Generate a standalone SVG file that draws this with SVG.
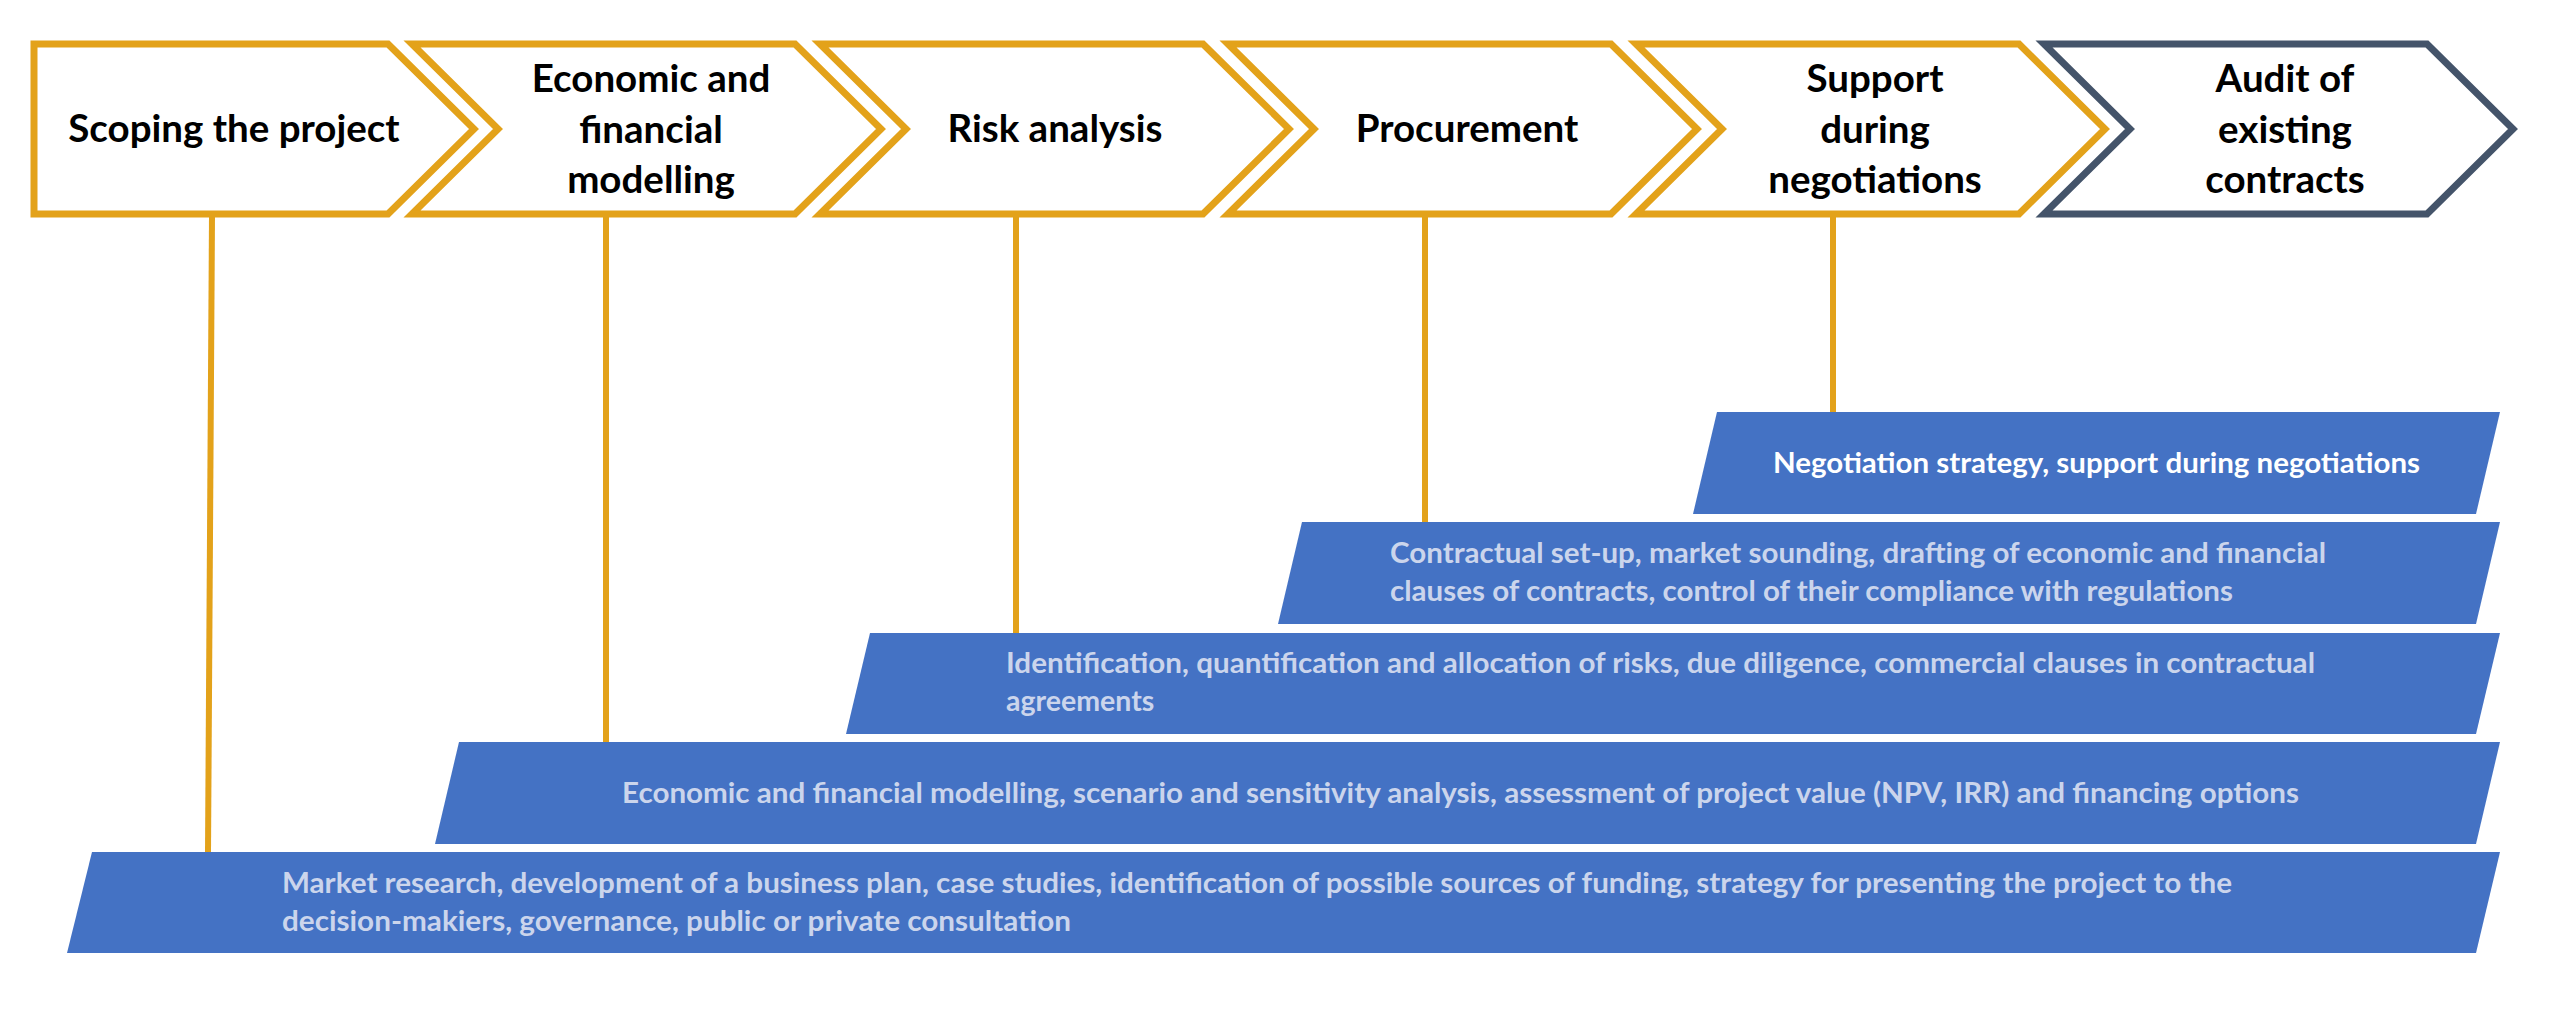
<svg xmlns="http://www.w3.org/2000/svg" width="2560" height="1013" viewBox="0 0 2560 1013">
<style>
.chev{fill:#ffffff;stroke:#E3A21A;stroke-width:7;stroke-linejoin:miter}
.chev.dark{stroke:#44546A}
.title{font-family:Lato,"Open Sans","Liberation Sans",sans-serif;font-weight:700;font-size:38.5px;fill:#000000;text-anchor:middle}
.band{fill:#4472C4}
.btxt{font-family:Lato,"Open Sans","Liberation Sans",sans-serif;font-weight:700;font-size:28.5px;fill:#CBD5EC}
.btxt.w{fill:#ffffff}
.conn{stroke:#E3A21A;stroke-width:6;fill:none}
</style>
<rect width="2560" height="1013" fill="#ffffff"/>
<g id="connectors">
<line class="conn" x1="212" y1="216" x2="208" y2="853"/>
<line class="conn" x1="606" y1="216" x2="606" y2="743"/>
<line class="conn" x1="1016" y1="216" x2="1016" y2="634"/>
<line class="conn" x1="1425" y1="216" x2="1425" y2="523"/>
<line class="conn" x1="1833" y1="216" x2="1833" y2="413"/>
</g>
<g id="step-scoping">
<path class="chev" d="M34,44 H388 L474,129 L388,214 H34 Z"/>
<text class="title" x="234" y="142">Scoping the project</text>
</g>
<g id="step-modelling">
<path class="chev" d="M412,44 H795 L881,129 L795,214 H412 L498,129 Z"/>
<text class="title" x="651" y="92">Economic and</text>
<text class="title" x="651" y="143">financial</text>
<text class="title" x="651" y="193">modelling</text>
</g>
<g id="step-risk">
<path class="chev" d="M820,44 H1203 L1289,129 L1203,214 H820 L906,129 Z"/>
<text class="title" x="1055" y="142">Risk analysis</text>
</g>
<g id="step-procurement">
<path class="chev" d="M1228,44 H1611 L1697,129 L1611,214 H1228 L1314,129 Z"/>
<text class="title" x="1467" y="142">Procurement</text>
</g>
<g id="step-negotiations">
<path class="chev" d="M1636,44 H2019 L2105,129 L2019,214 H1636 L1722,129 Z"/>
<text class="title" x="1875" y="92">Support</text>
<text class="title" x="1875" y="143">during</text>
<text class="title" x="1875" y="193">negotiations</text>
</g>
<g id="step-audit">
<path class="chev dark" d="M2044,44 H2427 L2513,129 L2427,214 H2044 L2130,129 Z"/>
<text class="title" x="2285" y="92">Audit of</text>
<text class="title" x="2285" y="143">existing</text>
<text class="title" x="2285" y="193">contracts</text>
</g>
<g id="band-negotiation">
<path class="band" d="M1717,412 H2500 L2476,514 H1693 Z"/>
<text class="btxt w" x="1773" y="473" textLength="647" lengthAdjust="spacingAndGlyphs">Negotiation strategy, support during negotiations</text>
</g>
<g id="band-procurement">
<path class="band" d="M1302,522 H2500 L2476,624 H1278 Z"/>
<text class="btxt" x="1390" y="563" textLength="936" lengthAdjust="spacingAndGlyphs">Contractual set-up, market sounding, drafting of economic and financial</text>
<text class="btxt" x="1390" y="601" textLength="843" lengthAdjust="spacingAndGlyphs">clauses of contracts, control of their compliance with regulations</text>
</g>
<g id="band-risk">
<path class="band" d="M870,633 H2500 L2476,734 H846 Z"/>
<text class="btxt" x="1006" y="673" textLength="1309" lengthAdjust="spacingAndGlyphs">Identification, quantification and allocation of risks, due diligence, commercial clauses in contractual</text>
<text class="btxt" x="1006" y="711">agreements</text>
</g>
<g id="band-modelling">
<path class="band" d="M459,742 H2500 L2476,844 H435 Z"/>
<text class="btxt" x="622" y="803" textLength="1677" lengthAdjust="spacingAndGlyphs">Economic and financial modelling, scenario and sensitivity analysis, assessment of project value (NPV, IRR) and financing options</text>
</g>
<g id="band-scoping">
<path class="band" d="M92,852 H2500 L2476,953 H67 Z"/>
<text class="btxt" x="282" y="893" textLength="1950" lengthAdjust="spacingAndGlyphs">Market research, development of a business plan, case studies, identification of possible sources of funding, strategy for presenting the project to the</text>
<text class="btxt" x="282" y="931" textLength="789" lengthAdjust="spacingAndGlyphs">decision-makiers, governance, public or private consultation</text>
</g>
</svg>
